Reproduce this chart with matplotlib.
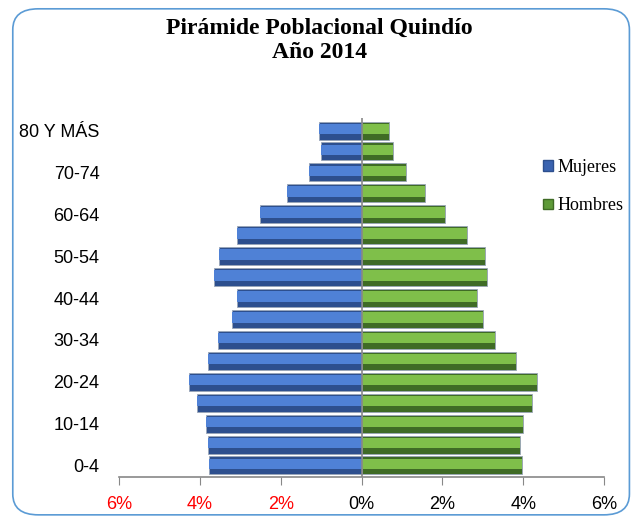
import matplotlib.pyplot as plt
from matplotlib.patches import FancyBboxPatch
from matplotlib.patches import Patch

grupos = ['0-4', '5-9', '10-14', '15-19', '20-24', '25-29', '30-34', '35-39',
          '40-44', '45-49', '50-54', '55-59', '60-64', '65-69', '70-74',
          '75-79', '80 Y MÁS']
mujeres = [3.78, 3.80, 3.85, 4.07, 4.27, 3.80, 3.55, 3.21, 3.09, 3.65,
           3.53, 3.09, 2.52, 1.85, 1.31, 1.01, 1.04]
hombres = [3.98, 3.93, 4.00, 4.22, 4.35, 3.83, 3.31, 3.01, 2.86, 3.11,
           3.06, 2.62, 2.07, 1.56, 1.09, 0.77, 0.67]
xticks = [-6, -4, -2, 0, 2, 4, 6]
xlabels = ['6%', '4%', '2%', '0%', '2%', '4%', '6%']

fig = plt.figure(figsize=(6.39, 5.19), dpi=100)
fig.patches.append(FancyBboxPatch((0.02, 0.008), 0.965, 0.975, boxstyle='round,pad=0,rounding_size=0.04',
                                  transform=fig.transFigure, fill=False,
                                  edgecolor='#5b9bd5', linewidth=1.2))
ax = fig.add_axes([119/639, 1 - 477/519, (604-119)/639, (477-118)/519])

y = range(len(grupos))
neg = [-v for v in mujeres]
# bisel: barra oscura + franja clara
ax.barh(y, neg, height=0.86, color='#2d4f8e', edgecolor='#9aa6b8', linewidth=0.6)
ax.barh([i + 0.08 for i in y], neg, height=0.5, color='#4f81d6', linewidth=0)
ax.barh(y, hombres, height=0.86, color='#3f6b25', edgecolor='#9aa6b8', linewidth=0.6)
ax.barh([i + 0.08 for i in y], hombres, height=0.5, color='#7fbf4a', linewidth=0)

ax.axvline(0, color='#888888', lw=1.2)
ax.set_xlim(-6, 6)
ax.set_ylim(-0.55, len(grupos) - 0.4)
ax.set_xticks(xticks)
ax.set_xticklabels(xlabels, fontsize=13, family='Liberation Sans')
for t, lab in zip(ax.get_xticklabels(), xticks):
    if lab < 0:
        t.set_color('red')
ax.set_yticks(list(y)[::2])
ax.set_yticklabels(grupos[::2], fontsize=13, family='Liberation Sans')
ax.tick_params(axis='y', length=0, pad=14)
ax.tick_params(axis='x', length=6, color='#888888', pad=8)
for s in ['top', 'right', 'left']:
    ax.spines[s].set_visible(False)
ax.spines['bottom'].set_color('#888888')
ax.spines['bottom'].set_linewidth(1.2)

handles = [Patch(facecolor='#3a63b0', edgecolor='#2d4f8e'),
           Patch(facecolor='#5e9a38', edgecolor='#3f6b25')]
fig.legend(handles, ['Mujeres', 'Hombres'], loc='upper left',
           bbox_to_anchor=(527/639, 1 - 143/519), frameon=False,
           prop={'family': 'Liberation Serif', 'size': 13},
           handlelength=0.55, handleheight=0.55, handletextpad=0.25, labelspacing=1.17)

fig.text(0.5, 1 - 28/519, 'Pirámide Poblacional Quindío', ha='center', va='center',
         fontsize=17, fontweight='bold', family='Liberation Serif')
fig.text(0.5, 1 - 52/519, 'Año 2014', ha='center', va='center',
         fontsize=17, fontweight='bold', family='Liberation Serif')

fig.savefig('out.png', dpi=100)
